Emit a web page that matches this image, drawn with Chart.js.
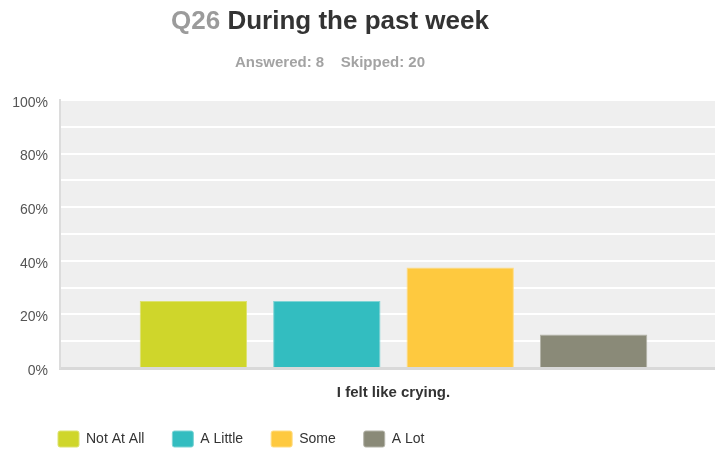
<!DOCTYPE html>
<html>
<head>
<meta charset="utf-8">
<script src="https://cdn.jsdelivr.net/npm/chart.js@4/dist/chart.umd.min.js"></script>
<style>
  html, body { margin: 0; padding: 0; background: #fff; overflow: hidden; }
  #wrap { position: relative; width: 715px; height: 451px; overflow: hidden; }
  #box { position: absolute; left: 0; top: 0; width: 727px; height: 451px; }
  .title { position: absolute; left: 0; width: 660px; text-align: center; font-family: "Liberation Sans", Arial, sans-serif; font-weight: bold; white-space: pre; }
  #t1 { top: 5px; font-size: 26px; color: #333; }
  #t1 span { color: #9b9b9b; }
  #t2 { top: 53px; font-size: 15px; color: #a3a3a3; }
</style>
</head>
<body>
<div id="wrap">
  <div id="box"><canvas id="c"></canvas></div>
  <div class="title" id="t1"><span>Q26</span> During the past week</div>
  <div class="title" id="t2">Answered: 8    Skipped: 20</div>
</div>
<script>
const categories = ["I felt like crying."];
const seriesNames = ["Not At All", "A Little", "Some", "A Lot"];
const seriesValues = [[25], [25], [37.5], [12.5]];
const seriesColors = ["#cfd62b", "#33bdc0", "#fec93f", "#8a8a78"];
const seriesBorders = ["#dde270", "#7fd4d5", "#ffdc83", "#b3b3a8"];

// light grey plot background
const plotBg = {
  id: "plotBg",
  beforeDraw(chart) {
    const a = chart.chartArea, ctx = chart.ctx;
    ctx.save();
    ctx.fillStyle = "#efefef";
    ctx.fillRect(a.left, a.top, a.right - a.left, a.bottom - a.top);
    ctx.restore();
  }
};

// legend starts under the plot, not at the canvas edge
const legendShift = {
  id: "legendShift",
  afterLayout(chart) {
    chart.legend.left += 30;
    chart.legend.right += 30;
  }
};

Chart.defaults.font.family = '"Liberation Sans", Arial, sans-serif';

new Chart(document.getElementById("c"), {
  type: "bar",
  data: {
    labels: categories,
    datasets: seriesNames.map((name, i) => ({
      label: name,
      data: seriesValues[i],
      backgroundColor: seriesColors[i],
      borderColor: seriesBorders[i],
      borderWidth: 1,
      categoryPercentage: 0.8,
      barPercentage: 0.805
    }))
  },
  options: {
    responsive: true,
    maintainAspectRatio: false,
    animation: false,
    layout: { padding: { top: 100, left: 0, right: 0, bottom: -6 } },
    plugins: {
      title: { display: false },
      tooltip: { enabled: false },
      legend: {
        position: "bottom",
        align: "start",
        labels: {
          color: "#333",
          font: { size: 14 },
          boxWidth: 21,
          boxHeight: 16,
          padding: 28,
          useBorderRadius: true,
          borderRadius: 2
        }
      }
    },
    scales: {
      x: {
        grid: { display: false, drawTicks: false },
        border: { color: "#d9d9d9", width: 3 },
        ticks: { color: "#333", font: { size: 15, weight: "bold" }, padding: 16 },
        afterFit(scale) { scale.height = 35; }
      },
      y: {
        min: 0,
        max: 100,
        grid: { color: "#ffffff", lineWidth: 2, drawTicks: false },
        border: { color: "#dcdcdc", width: 2 },
        ticks: {
          stepSize: 10,
          color: "#555",
          font: { size: 14 },
          padding: 12,
          labelOffset: 3,
          callback: v => (v % 20 === 0 ? v + "%" : "")
        },
        afterFit(scale) { scale.width = 60; }
      }
    }
  },
  plugins: [plotBg, legendShift]
});
</script>
</body>
</html>
